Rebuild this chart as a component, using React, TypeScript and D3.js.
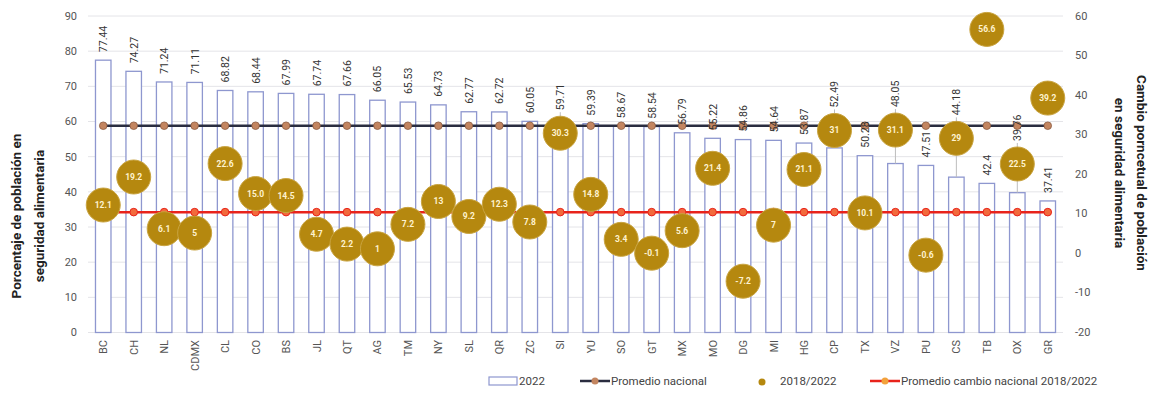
import React from "react";
import * as d3 from "d3";

const categories = ["BC","CH","NL","CDMX","CL","CO","BS","JL","QT","AG","TM","NY","SL","QR","ZC","SI","YU","SO","GT","MX","MO","DG","MI","HG","CP","TX","VZ","PU","CS","TB","OX","GR"];
const values2022 = [77.44,74.27,71.24,71.11,68.82,68.44,67.99,67.74,67.66,66.05,65.53,64.73,62.77,62.72,60.05,59.71,59.39,58.67,58.54,56.79,55.22,54.86,54.64,53.87,52.49,50.28,48.05,47.51,44.18,42.4,39.76,37.41];
const change = [12.1,19.2,6.1,5,22.6,15.0,14.5,4.7,2.2,1,7.2,13,9.2,12.3,7.8,30.3,14.8,3.4,-0.1,5.6,21.4,-7.2,7,21.1,31,10.1,31.1,-0.6,29,56.6,22.5,39.2];
const changeLabels = ["12.1","19.2","6.1","5","22.6","15.0","14.5","4.7","2.2","1","7.2","13","9.2","12.3","7.8","30.3","14.8","3.4","-0.1","5.6","21.4","-7.2","7","21.1","31","10.1","31.1","-0.6","29","56.6","22.5","39.2"];
const promedioNacional = 58.8;
const promedioCambio = 10.3;
const leftTicks = [0,10,20,30,40,50,60,70,80,90];
const rightTicks = [-20,-10,0,10,20,30,40,50,60];

export default function App() {
  const W = 1155, H = 394;
  const x0 = 88, x1 = 1063;
  const x = d3.scaleBand().domain(categories).range([x0, x1]).paddingInner(0).paddingOuter(0);
  const yL = d3.scaleLinear().domain([0, 90]).range([332.5, 16]);
  const yR = d3.scaleLinear().domain([-20, 60]).range([331.7, 16]);
  const bw = 15.5;
  const r = 17;
  const font = "Roboto, 'Noto Sans', sans-serif";
  const cx = (c: string) => (x(c) as number) + x.bandwidth() / 2;

  const lineBlack = d3.line<string>().x(c => cx(c)).y(() => yL(promedioNacional));
  const lineRed = d3.line<string>().x(c => cx(c)).y(() => yR(promedioCambio));

  // label placement: above bar, or above bubble if it overlaps
  const labels = categories.map((c, i) => {
    const top = yL(values2022[i]);
    const txt = String(values2022[i]);
    const len = txt.length * 5.6 + 2;
    let bottom = top - 8;
    const by = yR(change[i]);
    let leader = false;
    if (by + r > bottom - len - 2 && by - r < top) {
      bottom = by - r - 6;
      leader = true;
    }
    return { c, top, bottom, txt, leader };
  });

  return (
    <svg width={W} height={H} style={{ display: "block", position: "absolute", left: 0, top: 0, background: "#fff" }} fontFamily={font}>
      {/* gridlines */}
      {leftTicks.map(t => (
        <line key={"g" + t} x1={x0} x2={x1} y1={yL(t)} y2={yL(t)} stroke="#e4e4e8" strokeWidth={1} />
      ))}
      {/* left ticks */}
      {leftTicks.map(t => (
        <text key={"l" + t} x={77} y={yL(t)} dy="0.35em" textAnchor="end" fontSize={11} fill="#555">{t}</text>
      ))}
      {rightTicks.map(t => (
        <text key={"r" + t} x={1075} y={yR(t)} dy="0.35em" textAnchor="start" fontSize={11} fill="#555">{t}</text>
      ))}
      {/* bars */}
      {categories.map((c, i) => (
        <rect key={"b" + c} x={cx(c) - bw / 2} y={yL(values2022[i])} width={bw} height={yL(0) - yL(values2022[i])} fill="#fff" stroke="#8e97cf" strokeWidth={1.3} />
      ))}
      {/* leader lines */}
      {labels.filter(l => l.leader).map(l => (
        <line key={"ld" + l.c} x1={cx(l.c)} x2={cx(l.c)} y1={l.bottom + 2} y2={l.top} stroke="#bdbdbd" strokeWidth={1} />
      ))}
      {/* red line */}
      <path d={lineRed(categories) || ""} fill="none" stroke="#e8231b" strokeWidth={2.5} />
      {categories.map(c => (
        <circle key={"rd" + c} cx={cx(c)} cy={yR(promedioCambio)} r={3.8} fill="#f26a3c" stroke="#e8231b" strokeWidth={1} />
      ))}
      {/* black line */}
      <path d={lineBlack(categories) || ""} fill="none" stroke="#2a2d40" strokeWidth={2.5} />
      {categories.map(c => (
        <circle key={"bd" + c} cx={cx(c)} cy={yL(promedioNacional)} r={3.8} fill="#c38560" stroke="#8a5a40" strokeWidth={0.8} />
      ))}
      {/* bar labels */}
      {labels.map(l => (
        <text key={"t" + l.c} transform={`translate(${cx(l.c) + 4},${l.bottom}) rotate(-90)`} fontSize={10.5} fill="#333">{l.txt}</text>
      ))}
      {/* bubbles */}
      {categories.map((c, i) => (
        <g key={"bb" + c}>
          <circle cx={cx(c)} cy={yR(change[i])} r={r} fill="#b5880f" stroke="#c9a441" strokeWidth={1} />
          <text x={cx(c)} y={yR(change[i])} dy="0.35em" textAnchor="middle" fontSize={8.5} fontWeight="bold" fill="#fff3cf">{changeLabels[i]}</text>
        </g>
      ))}
      {/* category labels */}
      {categories.map(c => (
        <text key={"c" + c} transform={`translate(${cx(c) + 4},${340}) rotate(-90)`} textAnchor="end" fontSize={11} fill="#555">{c}</text>
      ))}
      {/* axis titles */}
      <text transform="translate(21,216) rotate(-90)" textAnchor="middle" fontSize={13.5} fontWeight="bold" fill="#222">Porcentaje de población en</text>
      <text transform="translate(44,216) rotate(-90)" textAnchor="middle" fontSize={13.5} fontWeight="bold" fill="#222">seguridad alimentaria</text>
      <text transform="translate(1137,173) rotate(90)" textAnchor="middle" fontSize={13.5} fontWeight="bold" fill="#222">Cambio porncetual de población</text>
      <text transform="translate(1115,173) rotate(90)" textAnchor="middle" fontSize={13.5} fontWeight="bold" fill="#222">en seguridad alimentaria</text>
      {/* legend */}
      <rect x={489} y={377} width={28} height={8} fill="#fff" stroke="#8e97cf" strokeWidth={1.2} />
      <text x={519} y={381} dy="0.35em" fontSize={11.5} fill="#444">2022</text>
      <line x1={580} x2={610} y1={381} y2={381} stroke="#2a2d40" strokeWidth={2.5} />
      <circle cx={595} cy={381} r={3.5} fill="#c38560" />
      <text x={611} y={381} dy="0.35em" fontSize={11.5} fill="#444">Promedio nacional</text>
      <circle cx={762} cy={382} r={3.5} fill="#b5880f" />
      <text x={780} y={381} dy="0.35em" fontSize={11.5} fill="#444">2018/2022</text>
      <line x1={870} x2={900} y1={381} y2={381} stroke="#e8231b" strokeWidth={2.5} />
      <circle cx={885} cy={381} r={3.5} fill="#f2a23c" />
      <text x={901} y={381} dy="0.35em" fontSize={11.5} fill="#444">Promedio cambio nacional 2018/2022</text>
    </svg>
  );
}
